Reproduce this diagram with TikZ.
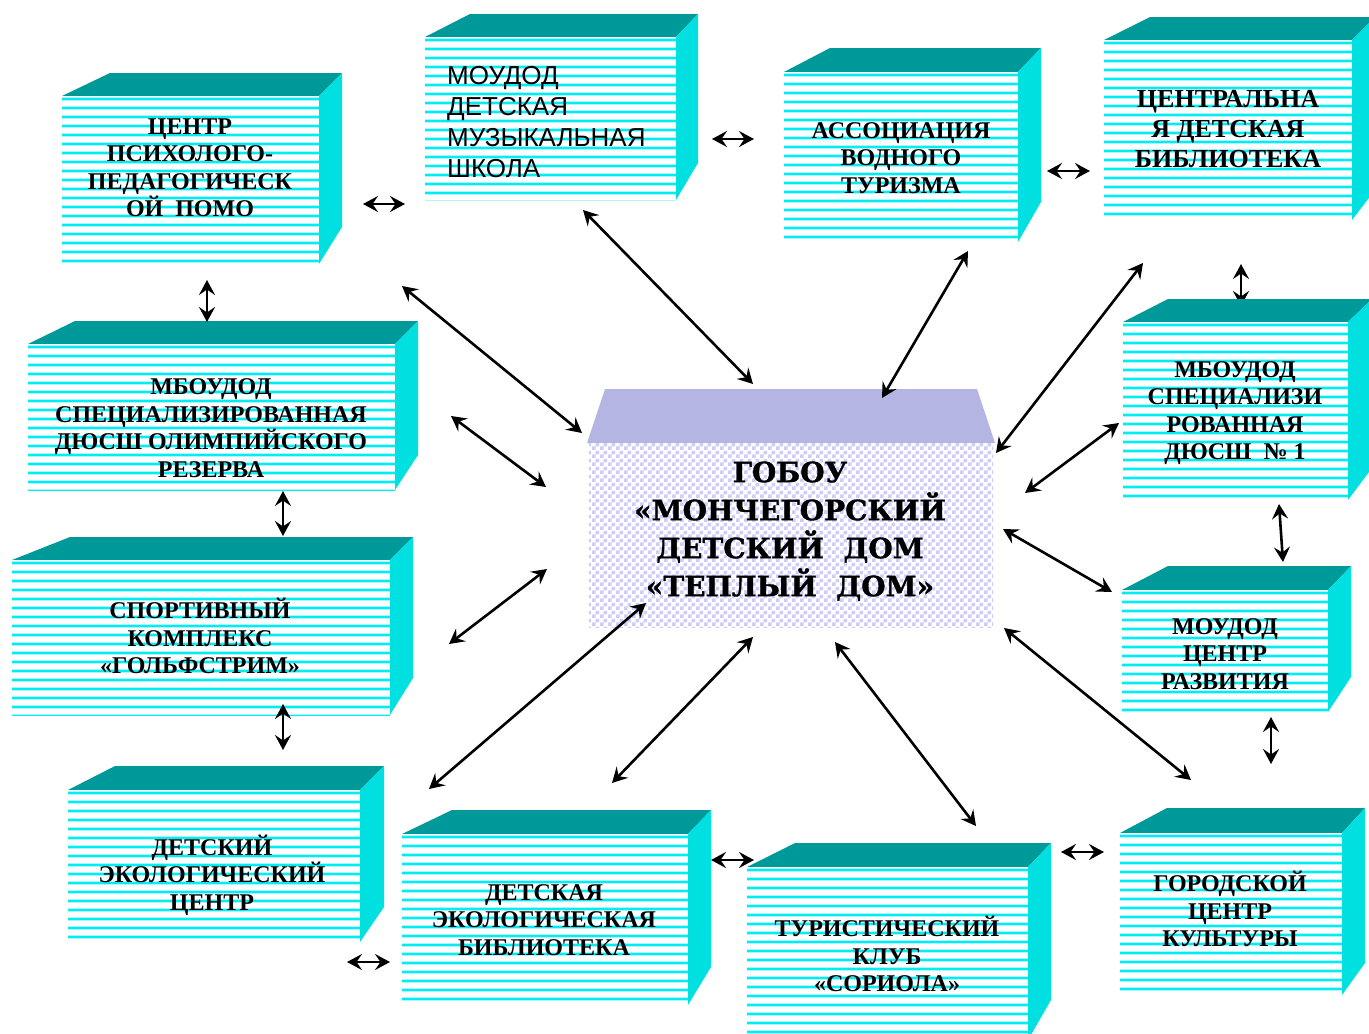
\documentclass[tikz,border=0pt]{standalone}
\usepackage{fontspec}
\setmainfont{Liberation Serif}
\newfontfamily\cfont{DejaVu Serif}[BoldFeatures={FakeBold=1.2}]
\newfontfamily\sfont{Liberation Sans}
\usetikzlibrary{arrows.meta,patterns}
\definecolor{topc}{RGB}{0,153,153}
\definecolor{sidec}{RGB}{0,224,224}
\definecolor{stripeo}{RGB}{170,245,255}
\definecolor{stripei}{RGB}{0,238,242}
\definecolor{lavtop}{RGB}{181,181,228}
\definecolor{checkc}{RGB}{205,205,248}
\pgfdeclarepatternformonly{bigcheck}{\pgfpointorigin}{\pgfqpoint{8pt}{8pt}}{\pgfqpoint{8pt}{8pt}}{%
  \pgfpathrectangle{\pgfpointorigin}{\pgfqpoint{4pt}{4pt}}%
  \pgfpathrectangle{\pgfqpoint{4pt}{4pt}}{\pgfqpoint{4pt}{4pt}}%
  \pgfusepath{fill}}
\newcommand\cubebox[9]{%
  \fill[topc] (#2,#3) -- (#6,#7) -- (#8,#7) -- (#4,#3) -- cycle;
  \fill[sidec] (#4,#3) -- (#8,#7) -- (#8,#9) -- (#4,#5) -- cycle;
  \fill[white] (#2,#3) rectangle (#4,#5);
  \begin{scope}
    \clip (#2,#3) rectangle (#4,#5);
    \foreach \k in {0,...,21}{%
      \draw[line width=3.6pt,stripeo] (#2,{#3+3+9*\k}) -- (#4,{#3+3+9*\k});
      \draw[line width=1.8pt,stripei] (#2,{#3+3+9*\k}) -- (#4,{#3+3+9*\k});
    }
  \end{scope}
  \coordinate (#1) at ({(#2+#4)/2},{(#3+#5)/2});
}
\tikzset{
  bt/.style={font=\bfseries\fontsize{24}{27.5}\selectfont, align=center, inner sep=0pt},
  arr/.style={{Stealth[length=15pt,width=16pt,inset=5.5pt]}-{Stealth[length=15pt,width=16pt,inset=5.5pt]}, line width=2.6pt, black},
}
\begin{document}
\begin{tikzpicture}[x=1pt,y=-1pt]
\useasboundingbox (0,0) rectangle (1369,1034);
\clip (0,0) rectangle (1369,1034);
\fill[white] (0,0) rectangle (1369,1034);

% arrow partly hidden behind box 12
\coordinate (v4a) at (1241,264); \coordinate (v4b) at (1241,306);
\draw[arr] (v4a) -- (v4b);

% boxes
\cubebox{b1}{62}{96}{319}{264}{110}{73}{342}{227}
\cubebox{b2}{425}{37}{676}{200}{470}{14}{698}{163}
\cubebox{b3}{784}{72}{1018}{242}{830}{48}{1041}{202}
\cubebox{b4}{1104}{40}{1352}{220}{1150}{17}{1375}{190}
\cubebox{b5}{28}{344}{395}{490}{75}{321}{418}{455}
\cubebox{b6}{12}{560}{390}{715}{70}{537}{413}{678}
\cubebox{b7}{68}{790}{360}{942}{115}{766}{384}{907}
\cubebox{b8}{402}{834}{688}{1005}{452}{810}{711}{967}
\cubebox{b9}{747}{867}{1028}{1040}{795}{843}{1051}{1000}
\cubebox{b10}{1122}{590}{1328}{712}{1168}{566}{1351}{677}
\cubebox{b11}{1120}{833}{1342}{995}{1167}{808}{1365}{963}
\cubebox{b12}{1123}{322}{1348}{500}{1168}{299}{1372}{468}

% central box
\fill[lavtop] (587,443) -- (605,389) -- (977,389) -- (995,443) -- cycle;
\fill[white] (589,443) rectangle (993,627);
\fill[pattern=bigcheck, pattern color=checkc] (589,443) rectangle (993,627);

% texts
\node[bt] (t1) at (190,168) {ЦЕНТР\\ПСИХОЛОГО-\\ПЕДАГОГИЧЕСК\\ОЙ~~ПОМО};
\node[font=\sfont\fontsize{26}{31}\selectfont, align=left, inner sep=0pt, anchor=west] (t2) at (447,122) {МОУДОД\\ДЕТСКАЯ\\МУЗЫКАЛЬНАЯ\\ШКОЛА};
\node[bt] (t3) at (901,158) {АССОЦИАЦИЯ\\ВОДНОГО\\ТУРИЗМА};
\node[bt, font=\bfseries\fontsize{26}{30}\selectfont] (t4) at (1228,129) {ЦЕНТРАЛЬНА\\Я ДЕТСКАЯ\\БИБЛИОТЕКА};
\node[bt] (t5) at (211,428) {МБОУДОД\\СПЕЦИАЛИЗИРОВАННАЯ\\ДЮСШ ОЛИМПИЙСКОГО\\РЕЗЕРВА};
\node[bt] (t6) at (200,636) {СПОРТИВНЫЙ\\КОМПЛЕКС\\«ГОЛЬФСТРИМ»};
\node[bt] (t7) at (212,875) {ДЕТСКИЙ\\ЭКОЛОГИЧЕСКИЙ\\ЦЕНТР};
\node[bt] (t8) at (544,920) {ДЕТСКАЯ\\ЭКОЛОГИЧЕСКАЯ\\БИБЛИОТЕКА};
\node[bt] (t9) at (887,954) {ТУРИСТИЧЕСКИЙ\\КЛУБ\\«СОРИОЛА»};
\node[bt] (t10) at (1225,654) {МОУДОД\\ЦЕНТР\\РАЗВИТИЯ};
\node[bt] (t11) at (1230,909) {ГОРОДСКОЙ\\ЦЕНТР\\КУЛЬТУРЫ};
\node[bt] (t12) at (1235,413) {МБОУДОД\\СПЕЦИАЛИЗИ\\РОВАННАЯ\\ДЮСШ~~№~1};
\node[font=\cfont\bfseries\fontsize{28}{38}\selectfont, align=center, inner sep=0pt] (tc) at (790,531) {ГОБОУ\\«МОНЧЕГОРСКИЙ\\ДЕТСКИЙ~~ДОМ\\«ТЕПЛЫЙ~~ДОМ»};

% arrow end points
\coordinate (a1a) at (363,204);  \coordinate (a1b) at (405,204);
\coordinate (a2a) at (712,139);  \coordinate (a2b) at (754,139);
\coordinate (a3a) at (1047,171); \coordinate (a3b) at (1090,171);
\coordinate (a4a) at (347,962);  \coordinate (a4b) at (390,962);
\coordinate (a5a) at (711,860);  \coordinate (a5b) at (754,860);
\coordinate (a6a) at (1061,852); \coordinate (a6b) at (1104,852);
\coordinate (v1a) at (207,280);  \coordinate (v1b) at (207,322);
\coordinate (v2a) at (283,491);  \coordinate (v2b) at (283,536);
\coordinate (v3a) at (283,704);  \coordinate (v3b) at (283,750);
\coordinate (v5a) at (1279,504); \coordinate (v5b) at (1283,562);
\coordinate (v6a) at (1271,717); \coordinate (v6b) at (1271,764);
\coordinate (d1a) at (583,210);  \coordinate (d1b) at (753,384);
\coordinate (d2a) at (402,286);  \coordinate (d2b) at (582,433);
\coordinate (d3a) at (968,251);  \coordinate (d3b) at (882,398);
\coordinate (d4a) at (1143,263); \coordinate (d4b) at (996,453);
\coordinate (d5a) at (451,416);  \coordinate (d5b) at (546,487);
\coordinate (d6a) at (1119,423); \coordinate (d6b) at (1025,493);
\coordinate (d7a) at (547,569);  \coordinate (d7b) at (449,644);
\coordinate (d8a) at (1003,529); \coordinate (d8b) at (1112,592);
\coordinate (d9a) at (646,603);  \coordinate (d9b) at (429,789);
\coordinate (d10a) at (753,637); \coordinate (d10b) at (612,783);
\coordinate (d11a) at (835,642); \coordinate (d11b) at (976,826);
\coordinate (d12a) at (1004,628); \coordinate (d12b) at (1191,780);

\foreach \n in {a1,a2,a3,a4,a5,a6,v1,v2,v3,v5,v6,d1,d2,d3,d4,d5,d6,d7,d8,d9,d10,d11,d12}{
  \draw[arr] (\n a) -- (\n b);
}
\end{tikzpicture}
\end{document}
